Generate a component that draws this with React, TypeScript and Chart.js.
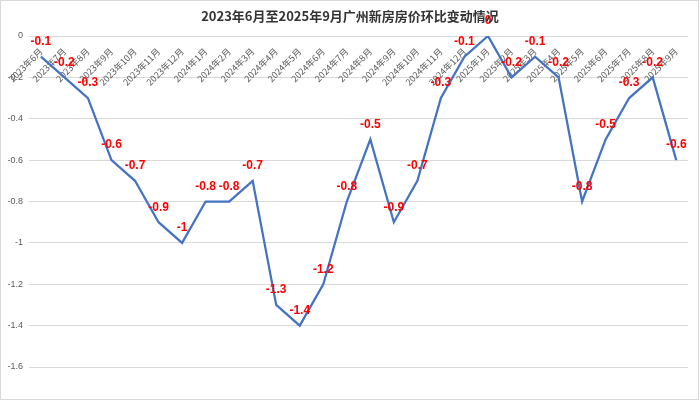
import React, { useEffect, useRef } from "react";
import { Chart, registerables } from "chart.js";

Chart.register(...registerables);

const title = "2023年6月至2025年9月广州新房房价环比变动情况";

const categories = [
  "2023年6月", "2023年7月", "2023年8月", "2023年9月", "2023年10月", "2023年11月", "2023年12月",
  "2024年1月", "2024年2月", "2024年3月", "2024年4月", "2024年5月", "2024年6月", "2024年7月",
  "2024年8月", "2024年9月", "2024年10月", "2024年11月", "2024年12月",
  "2025年1月", "2025年2月", "2025年3月", "2025年4月", "2025年5月", "2025年6月", "2025年7月",
  "2025年8月", "2025年9月",
];

const values = [
  -0.1, -0.2, -0.3, -0.6, -0.7, -0.9, -1, -0.8, -0.8, -0.7, -1.3, -1.4, -1.2, -0.8,
  -0.5, -0.9, -0.7, -0.3, -0.1, 0, -0.2, -0.1, -0.2, -0.8, -0.5, -0.3, -0.2, -0.6,
];

const yTicks = [0, -0.2, -0.4, -0.6, -0.8, -1, -1.2, -1.4, -1.6];
const yTickLabels = ["0", "-0.2", "-0.4", "-0.6", "-0.8", "-1", "-1.2", "-1.4", "-1.6"];

const W = 700;
const H = 401;

const framePlugin = {
  id: "frame",
  beforeDraw(chart: any) {
    const ctx = chart.ctx;
    ctx.save();
    ctx.fillStyle = "#ffffff";
    ctx.fillRect(0, 0, chart.width, chart.height);
    ctx.strokeStyle = "#d9d9d9";
    ctx.lineWidth = 1;
    ctx.strokeRect(0.5, 0.5, chart.width - 2, chart.height - 2);
    ctx.restore();
  },
  afterDraw(chart: any) {
    const ctx = chart.ctx;
    ctx.save();
    ctx.fillStyle = "#333333";
    ctx.font = 'bold 13px "Noto Sans CJK SC", sans-serif';
    ctx.textAlign = "center";
    ctx.textBaseline = "middle";
    ctx.fillText(title, 350, 16);
    ctx.restore();
  },
};

const dataLabelPlugin = {
  id: "dataLabels",
  afterDatasetsDraw(chart: any) {
    const ctx = chart.ctx;
    const meta = chart.getDatasetMeta(0);
    ctx.save();
    ctx.fillStyle = "#ff0000";
    ctx.font = 'bold 12px "Liberation Sans", Arial, sans-serif';
    ctx.textAlign = "center";
    ctx.textBaseline = "middle";
    meta.data.forEach((pt: any, i: number) => {
      ctx.fillText(String(values[i]), pt.x, pt.y - 15);
    });
    ctx.restore();
  },
};

export default function App() {
  const ref = useRef<HTMLCanvasElement | null>(null);

  useEffect(() => {
    if (!ref.current) return;
    const chart = new Chart(ref.current, {
      type: "line",
      data: {
        labels: categories,
        datasets: [
          {
            data: values,
            borderColor: "#4472C4",
            borderWidth: 2.25,
            pointRadius: 0,
            tension: 0,
            fill: false,
          },
        ],
      },
      options: {
        responsive: false,
        animation: false,
        layout: { padding: { top: 36, bottom: 34, left: 0, right: 12 } },
        plugins: {
          legend: { display: false },
          title: { display: false },
          tooltip: { enabled: false },
        },
        scales: {
          x: {
            type: "category",
            position: { y: 0 } as any,
            offset: true,
            grid: { display: false, drawTicks: false },
            border: { display: false },
            ticks: {
              autoSkip: false,
              minRotation: 45,
              maxRotation: 45,
              padding: 10,
              color: "#595959",
              font: { size: 9, family: '"Noto Sans CJK SC", sans-serif' },
            },
          },
          y: {
            min: -1.6,
            max: 0,
            grid: { color: "#d9d9d9", drawTicks: false },
            border: { display: false },
            afterBuildTicks: (s: any) => {
              s.ticks = yTicks.map((v) => ({ value: v }));
            },
            afterFit: (s: any) => {
              s.width = 28;
            },
            ticks: {
              padding: 6,
              color: "#595959",
              font: { size: 9, family: '"Liberation Sans", Arial, sans-serif' },
              callback: (_v: any, i: number) => yTickLabels[i],
            },
          },
        },
      },
      plugins: [framePlugin, dataLabelPlugin],
    });
    return () => chart.destroy();
  }, []);

  return (
    <div style={{ position: "fixed", left: 0, top: 0, width: W, height: H }}>
      <canvas ref={ref} width={W} height={H} style={{ width: W, height: H, display: "block" }} />
    </div>
  );
}
